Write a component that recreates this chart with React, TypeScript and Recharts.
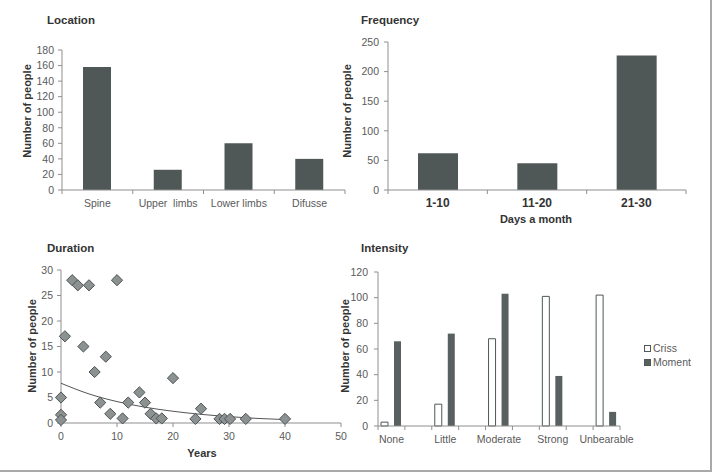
import React from 'react';
import { BarChart, Bar, XAxis, YAxis, ScatterChart, Scatter } from 'recharts';

const FONT = '"Liberation Sans", Arial, sans-serif';
const TEXT = '#5a5a5a';
const DARK = '#333333';
const AXIS = '#8f8f8f';
const BAR = '#4f5856';
const MOMENT = '#58615f';

// Location
const locationNames = ['Spine', 'Upper  limbs', 'Lower limbs', 'Difusse'];
const locationCounts = [158, 26, 60, 40];
const locationTicks = [0, 20, 40, 60, 80, 100, 120, 140, 160, 180];

// Frequency
const frequencyRanges = ['1-10', '11-20', '21-30'];
const frequencyCounts = [62, 45, 227];
const frequencyTicks = [0, 50, 100, 150, 200, 250];

// Duration
const durationYears = [0, 0, 0, 0.7, 2, 3, 5, 4, 6, 7, 8, 8.8, 10, 11, 12, 14, 15, 16, 17, 18, 20, 24, 25, 28.3, 29.2, 30.2, 33, 40];
const durationPeople = [5, 1.6, 0.6, 17, 28, 27, 27, 15, 10, 4, 13, 1.8, 28, 0.9, 4, 6, 4, 1.8, 0.9, 0.9, 8.8, 0.8, 2.8, 0.8, 0.8, 0.8, 0.8, 0.8];
const trendYears = [0, 5, 10, 15, 20, 25, 30, 35, 40];
const trendPeople = [7.8, 5.7, 4.2, 3.1, 2.3, 1.7, 1.25, 0.9, 0.67];
const durationXTicks = [0, 10, 20, 30, 40, 50];
const durationYTicks = [0, 5, 10, 15, 20, 25, 30];

// Intensity
const intensityLevels = ['None', 'Little', 'Moderate', 'Strong', 'Unbearable'];
const crissCounts = [3, 17, 68, 101, 102];
const momentCounts = [66, 72, 103, 39, 11];
const intensityTicks = [0, 20, 40, 60, 80, 100, 120];

const locationData = locationNames.map((name, i) => ({ name, count: locationCounts[i] }));
const frequencyData = frequencyRanges.map((name, i) => ({ name, count: frequencyCounts[i] }));
const durationData = durationYears.map((x, i) => ({ x, y: durationPeople[i] }));
const trendData = trendYears.map((x, i) => ({ x, y: trendPeople[i] }));

// empty slots between the levels keep the wide spacing of the groups
const intensityData: Array<Record<string, string | number>> = [];
intensityLevels.forEach((name, i) => {
  intensityData.push({ name, criss: crissCounts[i], moment: momentCounts[i] });
  if (i < intensityLevels.length - 1) intensityData.push({ name: `gap${i}` });
});

const yTick = { fill: TEXT, fontSize: 10.5, fontFamily: FONT };

// category tick: label in the middle, tick marks on the band edges
const BandTick = (props: any) => {
  const { x, y, payload, index, half, count, bold, fontSize, drop } = props;
  const label = String(payload.value);
  return (
    <g>
      <line x1={x - half} x2={x - half} y1={y} y2={y + 4} stroke={AXIS} />
      {index === count - 1 && <line x1={x + half} x2={x + half} y1={y} y2={y + 4} stroke={AXIS} />}
      {!label.startsWith('gap') && (
        <text
          x={x}
          y={y + drop}
          textAnchor="middle"
          fontFamily={FONT}
          fontSize={fontSize}
          fontWeight={bold ? 'bold' : 'normal'}
          fill={bold ? DARK : TEXT}
          style={{ whiteSpace: 'pre' }}
        >
          {label}
        </text>
      )}
    </g>
  );
};

const Diamond = (props: any) => {
  const { cx, cy } = props;
  const r = 5.6;
  return (
    <path
      d={`M${cx},${cy - r}L${cx + r},${cy}L${cx},${cy + r}L${cx - r},${cy}Z`}
      fill="#8b9291"
      stroke="#4c5352"
      strokeWidth={1}
    />
  );
};

const NoDot = () => <g />;

const Title = ({ x, y, children }: { x: number; y: number; children: React.ReactNode }) => (
  <div style={{ position: 'absolute', left: x, top: y - 8, lineHeight: '16px', fontFamily: FONT, fontSize: 11.5, fontWeight: 'bold', color: DARK, whiteSpace: 'nowrap' }}>
    {children}
  </div>
);

const Centered = ({ x, y, rotate, children }: { x: number; y: number; rotate?: boolean; children: React.ReactNode }) => (
  <div
    style={{
      position: 'absolute',
      left: x,
      top: y,
      transform: `translate(-50%, -50%)${rotate ? ' rotate(-90deg)' : ''}`,
      lineHeight: '16px',
      fontFamily: FONT,
      fontSize: 11,
      fontWeight: 'bold',
      color: DARK,
      whiteSpace: 'nowrap',
    }}
  >
    {children}
  </div>
);

const Swatch = ({ x, y, fill }: { x: number; y: number; fill: string }) => (
  <div style={{ position: 'absolute', left: x, top: y, width: 5, height: 5, background: fill, border: `1px solid ${BAR}` }} />
);

const LegendText = ({ x, y, children }: { x: number; y: number; children: React.ReactNode }) => (
  <div style={{ position: 'absolute', left: x, top: y - 7, lineHeight: '14px', fontFamily: FONT, fontSize: 10.5, color: TEXT }}>
    {children}
  </div>
);

export default function App() {
  return (
    <div style={{ position: 'absolute', left: 0, top: 0, width: 716, height: 474, background: '#fff', overflow: 'hidden' }}>
      <div style={{ position: 'absolute', left: 0, top: 0, width: 710, height: 470, borderRight: '2px solid #a9a9a9', borderBottom: '2px solid #a9a9a9' }} />

      {/* Location */}
      <div style={{ position: 'absolute', left: 0, top: 0 }}>
        <BarChart width={360} height={230} data={locationData} margin={{ top: 50, right: 15, bottom: 10, left: 22 }}>
          <XAxis
            dataKey="name"
            height={30}
            interval={0}
            tickSize={0}
            tickMargin={0}
            tickLine={false}
            axisLine={{ stroke: AXIS }}
            tick={<BandTick half={283 / 8} count={4} fontSize={10.5} drop={16.5} />}
          />
          <YAxis width={40} domain={[0, 180]} ticks={locationTicks} interval={0} tickSize={4} tickMargin={4} tick={yTick} tickLine={{ stroke: AXIS }} axisLine={{ stroke: AXIS }} />
          <Bar dataKey="count" fill={BAR} barSize={28} isAnimationActive={false} />
        </BarChart>
      </div>
      <Title x={47} y={20}>Location</Title>
      <Centered x={27} y={111} rotate>Number of people</Centered>

      {/* Frequency */}
      <div style={{ position: 'absolute', left: 356, top: 0 }}>
        <BarChart width={360} height={230} data={frequencyData} margin={{ top: 42, right: 30, bottom: 10, left: 0 }}>
          <XAxis
            dataKey="name"
            height={30}
            interval={0}
            tickSize={0}
            tickMargin={0}
            tickLine={false}
            axisLine={{ stroke: AXIS }}
            tick={<BandTick half={298 / 6} count={3} fontSize={12} drop={17} bold />}
          />
          <YAxis width={32} domain={[0, 250]} ticks={frequencyTicks} interval={0} tickSize={4} tickMargin={5} tick={yTick} tickLine={{ stroke: AXIS }} axisLine={{ stroke: AXIS }} />
          <Bar dataKey="count" fill={BAR} barSize={40} isAnimationActive={false} />
        </BarChart>
      </div>
      <Title x={361} y={20}>Frequency</Title>
      <Centered x={347} y={111} rotate>Number of people</Centered>
      <Centered x={536} y={219}>Days a month</Centered>

      {/* Duration */}
      <div style={{ position: 'absolute', left: 0, top: 230 }}>
        <ScatterChart width={360} height={244} margin={{ top: 40, right: 19, bottom: 21, left: 21 }}>
          <XAxis type="number" dataKey="x" height={30} domain={[0, 50]} ticks={durationXTicks} interval={0} tickSize={4} tickMargin={6} tick={yTick} tickLine={{ stroke: AXIS }} axisLine={{ stroke: AXIS }} />
          <YAxis type="number" dataKey="y" width={40} domain={[0, 30]} ticks={durationYTicks} interval={0} tickSize={4} tickMargin={4} tick={yTick} tickLine={{ stroke: AXIS }} axisLine={{ stroke: AXIS }} />
          <Scatter data={trendData} line={{ stroke: '#555', strokeWidth: 1 }} lineJointType="monotoneX" shape={<NoDot />} isAnimationActive={false} />
          <Scatter data={durationData} shape={<Diamond />} isAnimationActive={false} />
        </ScatterChart>
      </div>
      <Title x={47} y={248}>Duration</Title>
      <Centered x={32} y={346} rotate>Number of people</Centered>
      <Centered x={202} y={453}>Years</Centered>

      {/* Intensity */}
      <div style={{ position: 'absolute', left: 340, top: 230 }}>
        <BarChart width={376} height={244} data={intensityData} margin={{ top: 42, right: 96, bottom: 18, left: 0 }} barGap={6} barCategoryGap={3}>
          <XAxis
            dataKey="name"
            height={30}
            interval={0}
            tickSize={0}
            tickMargin={0}
            tickLine={false}
            axisLine={{ stroke: AXIS }}
            tick={<BandTick half={242 / 18} count={9} fontSize={10.5} drop={17} />}
          />
          <YAxis width={38} domain={[0, 120]} ticks={intensityTicks} interval={0} tickSize={4} tickMargin={6} tick={yTick} tickLine={{ stroke: AXIS }} axisLine={{ stroke: AXIS }} />
          <Bar dataKey="criss" fill="#fff" stroke={BAR} strokeWidth={1} barSize={7} isAnimationActive={false} />
          <Bar dataKey="moment" fill={MOMENT} barSize={7} isAnimationActive={false} />
        </BarChart>
      </div>
      <Title x={361} y={248}>Intensity</Title>
      <Centered x={345} y={346} rotate>Number of people</Centered>
      <Swatch x={644} y={345} fill="#fff" />
      <LegendText x={653} y={348}>Criss</LegendText>
      <Swatch x={644} y={359} fill={MOMENT} />
      <LegendText x={653} y={362}>Moment</LegendText>
    </div>
  );
}
